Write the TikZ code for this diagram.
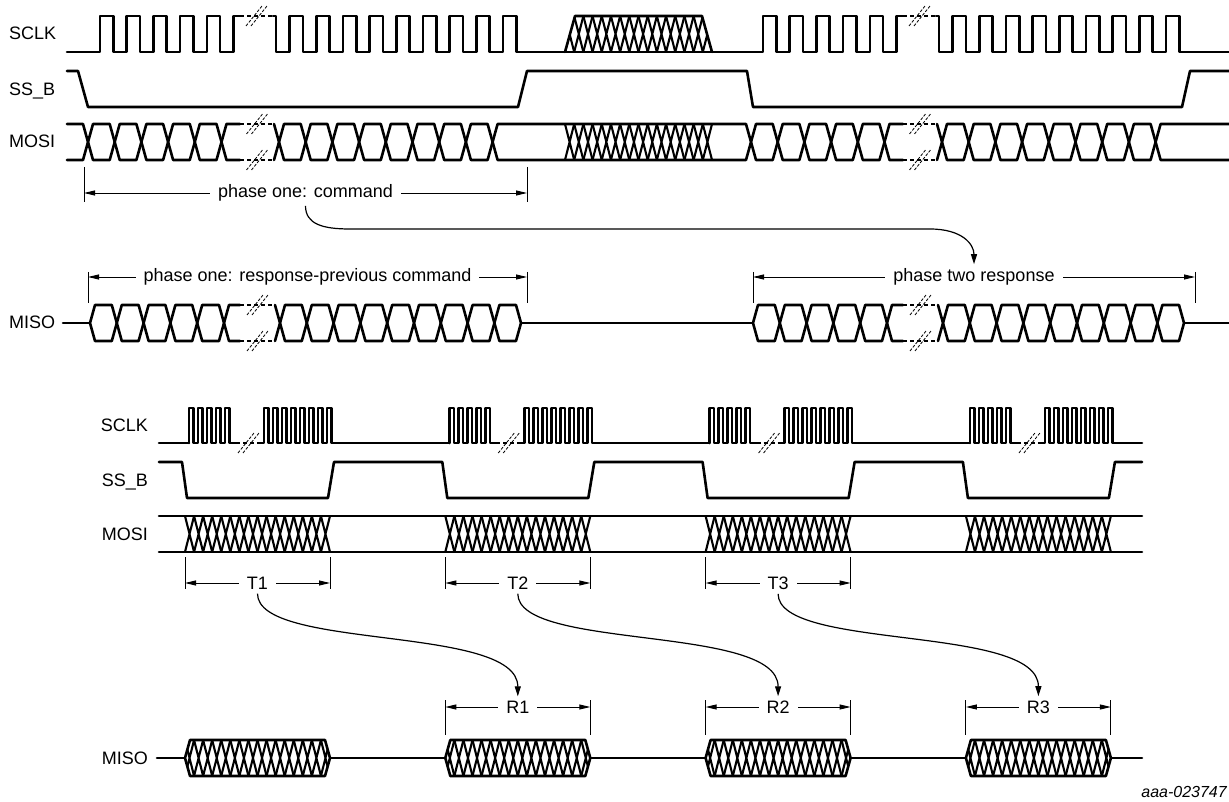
\documentclass[tikz,border=0pt]{standalone}
\usepackage{fontspec}
\setmainfont{Liberation Sans}
\usetikzlibrary{arrows.meta}
\newcommand\hatchx[5]{%
  \pgfmathsetmacro\hp{((#2)-(#1))/(#3)}%
  \foreach \hi in {1,...,#3}{%
    \draw[hatchl] ({(#1)+(\hi-1)*\hp},#4) -- ({(#1)+\hi*\hp},#5)
                  ({(#1)+(\hi-1)*\hp},#5) -- ({(#1)+\hi*\hp},#4);}}
\newcommand\hexc[4]{%
  \pgfmathsetmacro\hm{((#3)+(#4))/2}%
  \draw[sig] ({#1},\hm) -- ({(#1)+5},#3) -- ({(#2)-5},#3) -- ({#2},\hm) -- ({(#2)-5},#4) -- ({(#1)+5},#4) -- cycle;}
\newcommand\hexrun[5]{%
  \foreach \hk in {1,...,#3}{\hexc{(#1)+(\hk-1)*(#2)}{(#1)+\hk*(#2)}{#4}{#5}}}
\newcommand\openl[4]{%
  \pgfmathsetmacro\hm{((#3)+(#4))/2}%
  \draw[sig] ({#1},#3) -- ({(#2)-5},#3) -- ({#2},\hm) -- ({(#2)-5},#4) -- ({#1},#4);}
\newcommand\openr[4]{%
  \pgfmathsetmacro\hm{((#3)+(#4))/2}%
  \draw[sig] ({#2},#3) -- ({(#1)+5},#3) -- ({#1},\hm) -- ({(#1)+5},#4) -- ({#2},#4);}
\newcommand\brkmark[2]{%
  \draw[slash] ({(#1)-10.5},{(#2)+10}) -- ({(#1)+5.5},{(#2)-10})
               ({(#1)-5.5},{(#2)+10}) -- ({(#1)+10.5},{(#2)-10});}
\newcommand\dbreak[4]{%
  \draw[sigdash] ({#1},#3) -- ({#2},#3) ({#1},#4) -- ({#2},#4);}
\begin{document}
\begin{tikzpicture}[x=1pt,y=-1pt,
  sig/.style={line width=2.6pt,line join=round,line cap=round},
  sigdash/.style={line width=2.6pt,dash pattern=on 4pt off 3pt},
  hatchl/.style={line width=2.1pt},
  slash/.style={line width=0.8pt,dash pattern=on 3pt off 1.5pt},
  tick/.style={line width=0.9pt},
  dim/.style={line width=0.9pt,{Triangle[length=11pt,width=5pt]}-{Triangle[length=11pt,width=5pt]}},
  dimlabel/.style={fill=white,inner xsep=8pt,inner ysep=4pt,font=\fontsize{18}{20}\selectfont},
  siglabel/.style={font=\fontsize{18}{20}\selectfont,inner sep=0pt},
  curvearrow/.style={line width=1.2pt,-{Triangle[length=10pt,width=6pt]}},
]
\useasboundingbox[fill=white] (0,0) rectangle (1229,802);

% ---------------- top labels
\node[siglabel,anchor=base west] (lSCLKa) at (9,40) {SCLK};
\node[siglabel,anchor=base west] (lSSBa) at (9,96) {SS\_B};
\node[siglabel,anchor=base west] (lMOSIa) at (9,148) {MOSI};
\node[siglabel,anchor=base west] (lMISOa) at (9,329) {MISO};

% ---------------- top SCLK
\draw[sig] (67,52) -- (100,52) foreach \k in {0,...,4}{ -- ({100+26.7*\k},52) -- ({100+26.7*\k},16) -- ({113.35+26.7*\k},16) -- ({113.35+26.7*\k},52) } -- (233.5,52) -- (233.5,16) -- (240,16);
\draw[sigdash] (240,16) -- (273,16);
\draw[sig] (273,16) -- (276,16) -- (276,52) foreach \k in {0,...,8}{ -- ({289.5+26.7*\k},52) -- ({289.5+26.7*\k},16) -- ({302.85+26.7*\k},16) -- ({302.85+26.7*\k},52) } -- (763,52) foreach \k in {0,...,4}{ -- ({763+26.7*\k},52) -- ({763+26.7*\k},16) -- ({776.35+26.7*\k},16) -- ({776.35+26.7*\k},52) } -- (896.5,52) -- (896.5,16) -- (903,16);
\draw[sigdash] (903,16) -- (936,16);
\draw[sig] (936,16) -- (939,16) -- (939,52) foreach \k in {0,...,8}{ -- ({952.5+26.7*\k},52) -- ({952.5+26.7*\k},16) -- ({965.85+26.7*\k},16) -- ({965.85+26.7*\k},52) } -- (1229,52);
\begin{scope}
  \clip (565,52) -- (575,16) -- (702,16) -- (712,52) -- cycle;
  \hatchx{565}{712}{16}{16}{52}
\end{scope}
\draw[sig] (565,52) -- (575,16) -- (702,16) -- (712,52);
\brkmark{256.5}{16}
\brkmark{919.5}{16}

% ---------------- top SS_B
\draw[sig] (67,71) -- (78,71) -- (88,107) -- (518,107) -- (527,71) -- (747,71) -- (753,107) -- (1182,107) -- (1190,71) -- (1229,71);

% ---------------- top MOSI
\openl{67}{88}{124}{160}
\hexrun{88}{26.7}{5}{124}{160}
\openr{221.5}{240}{124}{160}
\dbreak{240}{274}{124}{160}
\openl{274}{279}{124}{160}
\hexrun{279}{26.7}{8}{124}{160}
\hexc{492.6}{751}{124}{160}
\hatchx{565}{712}{16}{124}{160}
\hexrun{751}{26.7}{5}{124}{160}
\openr{884.5}{903}{124}{160}
\dbreak{903}{937}{124}{160}
\openl{937}{942}{124}{160}
\hexrun{942}{26.7}{8}{124}{160}
\openr{1155.6}{1229}{124}{160}
\brkmark{257}{124}\brkmark{257}{160}
\brkmark{920}{124}\brkmark{920}{160}

% ---------------- top MISO
\draw[sig] (63,323) -- (90,323);
\hexrun{90}{26.8}{5}{305}{341}
\openr{224}{240}{305}{341}
\dbreak{240}{275}{305}{341}
\openl{275}{280}{305}{341}
\hexrun{280}{26.8}{8}{305}{341}
\hexc{494.4}{521}{305}{341}
\draw[sig] (521,323) -- (753,323);
\hexrun{753}{26.8}{5}{305}{341}
\openr{887}{903}{305}{341}
\dbreak{903}{938}{305}{341}
\openl{938}{943}{305}{341}
\hexrun{943}{26.8}{8}{305}{341}
\hexc{1157.4}{1184}{305}{341}
\draw[sig] (1184,323) -- (1229,323);
\brkmark{257.5}{305}\brkmark{257.5}{341}
\brkmark{920.5}{305}\brkmark{920.5}{341}

% ---------------- top dimensions
\coordinate (cLt) at (84,167); \coordinate (cLb) at (84,202);
\coordinate (cRt) at (527,167); \coordinate (cRb) at (527,202);
\draw[tick] (cLt) -- (cLb); \draw[tick] (cRt) -- (cRb);
\coordinate (cL) at (84,193); \coordinate (cR) at (527,193);
\draw[dim] (cL) -- node[dimlabel] (cmd) {phase one: command} (cR);

\coordinate (p1Lt) at (88,272); \coordinate (p1Lb) at (88,303);
\coordinate (p1Rt) at (527,272); \coordinate (p1Rb) at (527,303);
\draw[tick] (p1Lt) -- (p1Lb); \draw[tick] (p1Rt) -- (p1Rb);
\coordinate (p1L) at (88,277); \coordinate (p1R) at (527,277);
\draw[dim] (p1L) -- node[dimlabel] (p1) {phase one: response-previous command} (p1R);

\coordinate (p2Lt) at (753,272); \coordinate (p2Lb) at (753,303);
\coordinate (p2Rt) at (1195,272); \coordinate (p2Rb) at (1195,303);
\draw[tick] (p2Lt) -- (p2Lb); \draw[tick] (p2Rt) -- (p2Rb);
\coordinate (p2L) at (753,277); \coordinate (p2R) at (1195,277);
\draw[dim] (p2L) -- node[dimlabel] (p2) {phase two response} (p2R);

\coordinate (cv1) at (350,229); \coordinate (cv2) at (930,229);
\draw[curvearrow] (cmd.south) .. controls +(0,18) and +(-28,0) .. (cv1) -- (cv2) .. controls +(32,0) and +(0,-20) .. (p2.north);

% ---------------- bottom labels
\node[siglabel,anchor=base east] (lSCLKb) at (148,431) {SCLK};
\node[siglabel,anchor=base east] (lSSBb) at (148,486) {SS\_B};
\node[siglabel,anchor=base east] (lMOSIb) at (148,540) {MOSI};
\node[siglabel,anchor=base east] (lMISOb) at (148,764) {MISO};

% ---------------- bottom SCLK
\draw[sig] (159,443) -- (189,443);
\foreach \i in {0,...,3}{
  \pgfmathsetmacro\G{260.3*\i}
  \pgfmathsetmacro\nx{\i<3 ? 189+\G+260.3 : 1142}
  \draw[sig] ({189+\G},443) foreach \j in {0,...,4}{ -- ({189+\G+9*\j},443) -- ({189+\G+9*\j},408) -- ({193.5+\G+9*\j},408) -- ({193.5+\G+9*\j},443) } -- ({236+\G},443);
  \draw[sigdash] ({236+\G},443) -- ({261+\G},443);
  \draw[sig] ({261+\G},443) foreach \j in {0,...,7}{ -- ({264+\G+9*\j},443) -- ({264+\G+9*\j},408) -- ({268.5+\G+9*\j},408) -- ({268.5+\G+9*\j},443) } -- ({331.5+\G},443) -- (\nx,443);
  \brkmark{248.5+\G}{443}
}

% ---------------- bottom SS_B
\draw[sig] (159,462) foreach \i in {0,...,3}{ -- ({182+260.3*\i},462) -- ({187+260.3*\i},498) -- ({328+260.3*\i},498) -- ({334+260.3*\i},462) } -- (1142,462);

% ---------------- bottom MOSI
\draw[sig] (159,516) -- (1142,516);
\draw[sig] (159,552) -- (1142,552);
\foreach \i in {0,...,3}{
  \pgfmathsetmacro\xa{185+260.3*\i}
  \pgfmathsetmacro\xb{330+260.3*\i}
  \hatchx{\xa}{\xb}{16}{516}{552}
}

% ---------------- bottom MISO
\draw[sig] (157,758) -- (1142,758);
\foreach \i in {0,...,3}{
  \pgfmathsetmacro\xa{185+260.3*\i}
  \pgfmathsetmacro\xb{330+260.3*\i}
  \fill[white] (\xa,758) -- ({\xa+5},740) -- ({\xb-5},740) -- (\xb,758) -- ({\xb-5},776) -- ({\xa+5},776) -- cycle;
  \begin{scope}
    \clip (\xa,758) -- ({\xa+5},740) -- ({\xb-5},740) -- (\xb,758) -- ({\xb-5},776) -- ({\xa+5},776) -- cycle;
    \hatchx{\xa}{\xb}{16}{740}{776}
  \end{scope}
  \draw[sig] (\xa,758) -- ({\xa+5},740) -- ({\xb-5},740) -- (\xb,758) -- ({\xb-5},776) -- ({\xa+5},776) -- cycle;
}

% ---------------- bottom dimensions
\foreach \n in {1,2,3}{
  \pgfmathsetmacro\xa{185+260.3*(\n-1)}
  \pgfmathsetmacro\xb{330+260.3*(\n-1)}
  \coordinate (TLt\n) at (\xa,557); \coordinate (TLb\n) at (\xa,589);
  \coordinate (TRt\n) at (\xb,557); \coordinate (TRb\n) at (\xb,589);
  \draw[tick] (TLt\n) -- (TLb\n); \draw[tick] (TRt\n) -- (TRb\n);
  \coordinate (TL\n) at (\xa,583); \coordinate (TR\n) at (\xb,583);
  \draw[dim] (TL\n) -- node[dimlabel] (T\n) {T\n} (TR\n);
  \pgfmathsetmacro\ya{185+260.3*\n}
  \pgfmathsetmacro\yb{330+260.3*\n}
  \coordinate (RLt\n) at (\ya,700); \coordinate (RLb\n) at (\ya,735);
  \coordinate (RRt\n) at (\yb,700); \coordinate (RRb\n) at (\yb,735);
  \draw[tick] (RLt\n) -- (RLb\n); \draw[tick] (RRt\n) -- (RRb\n);
  \coordinate (RL\n) at (\ya,707); \coordinate (RR\n) at (\yb,707);
  \draw[dim] (RL\n) -- node[dimlabel] (R\n) {R\n} (RR\n);
}
\foreach \n in {1,2,3}{
  \draw[curvearrow] (T\n.south) .. controls +(0,57) and +(0,-72) .. (R\n.north);
}

\node[font=\fontsize{16}{18}\selectfont\itshape,anchor=base east,inner sep=0pt] (tag) at (1227,797) {aaa-023747};
\end{tikzpicture}
\end{document}
